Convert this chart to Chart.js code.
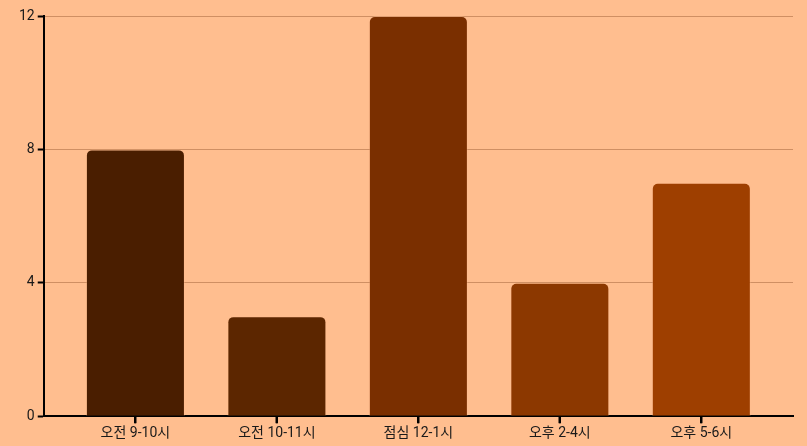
<!DOCTYPE html>
<html><head><meta charset="utf-8">
<script src="https://cdn.jsdelivr.net/npm/chart.js@4"></script>
<style>html,body{margin:0;padding:0;background:#FFBE8F;}#w{width:807px;height:446px;}</style>
</head><body><div id="w"><canvas id="c"></canvas></div>
<script>
const categories = ["오전 9-10시", "오전 10-11시", "점심 12-1시", "오후 2-4시", "오후 5-6시"];
const values = [8, 3, 12, 4, 7];
const barColors = ["#4A1E00", "#5C2600", "#7A2F00", "#8C3800", "#9E3F00"];
const yTicks = [0, 4, 8, 12];

Chart.defaults.font.family = "Roboto, 'Noto Sans CJK KR', sans-serif";
Chart.defaults.font.size = 14;
Chart.defaults.color = "#1a1a1a";

const xTickMarks = {
  id: 'xTickMarks',
  afterDraw(chart) {
    const x = chart.scales.x, ctx = chart.ctx, yb = chart.chartArea.bottom;
    ctx.save();
    ctx.strokeStyle = '#000';
    ctx.lineWidth = 2;
    x.ticks.forEach((t, i) => {
      const px = Math.round(x.getPixelForTick(i));
      ctx.beginPath();
      ctx.moveTo(px, yb);
      ctx.lineTo(px, yb + 7);
      ctx.stroke();
    });
    ctx.restore();
  }
};

new Chart(document.getElementById('c'), {
  type: 'bar',
  data: { labels: categories, datasets: [{ data: values, backgroundColor: barColors, borderColor: 'rgba(255,190,143,0.35)', borderWidth: 1, borderRadius: 6, borderSkipped: 'bottom', categoryPercentage: 0.7, barPercentage: 1 }] },
  options: {
    responsive: true, maintainAspectRatio: false, animation: false,
    layout: { padding: { top: 16, right: 14, left: 16, bottom: 2 } },
    plugins: { legend: { display: false }, tooltip: { enabled: false } },
    scales: {
      x: { afterBuildTicks: ax => { const extra = 0.148; ax._startValue = -0.5 - extra; ax._valueRange = categories.length + 2 * extra; },
           grid: { offset: false, drawOnChartArea: false, tickColor: '#000', tickLength: 7, tickWidth: 2 }, border: { color: '#000', width: 2 }, ticks: { padding: 2 } },
      y: { min: 0, max: 12, afterBuildTicks: ax => { ax.ticks = yTicks.map(v => ({ value: v })); },
           grid: { color: 'rgba(110,50,10,0.33)', tickColor: '#000', tickLength: 6, tickWidth: 2 }, border: { color: '#000', width: 2 }, ticks: { padding: 3 } }
    }
  },
  plugins: [xTickMarks]
});
</script></body></html>
